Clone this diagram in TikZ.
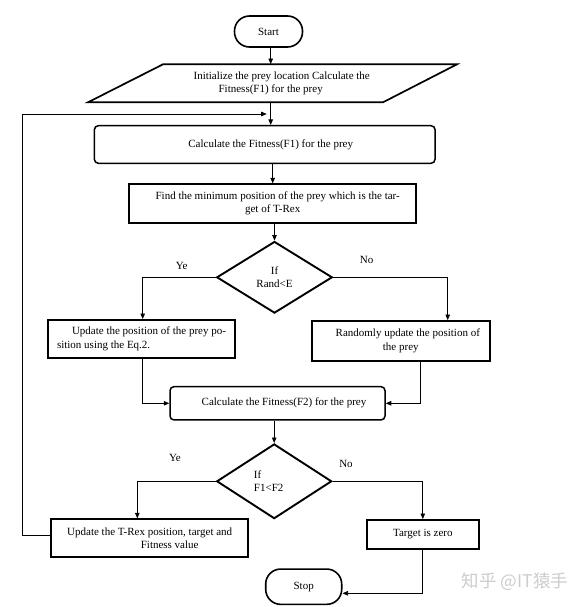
\documentclass[tikz,border=0pt]{standalone}
\usepackage{fontspec}
\setmainfont{Liberation Serif}
\newfontfamily\cjkfont{Noto Sans CJK SC}
\usetikzlibrary{shapes.geometric,arrows.meta}
\begin{document}
\begin{tikzpicture}[x=1pt,y=-1pt,
  font=\fontsize{11}{13.5}\selectfont,
  proc/.style={draw, line width=1.9pt, inner sep=0pt, align=center},
  rproc/.style={draw, line width=1.5pt, rounded corners=4pt, inner sep=0pt, align=center},
  term/.style={draw, line width=1.6pt, rounded corners=15pt, inner sep=0pt},
  dec/.style={draw, diamond, line width=1.9pt, inner sep=0pt, align=center},
  conn/.style={line width=0.7pt, -{Triangle[length=5.5pt,width=4.5pt]}},
  lab/.style={inner sep=0pt}]
\useasboundingbox (0,0) rectangle (585,607);
% nodes
\node[term, minimum width=68pt, minimum height=31pt] (start) at (268.5,31.5) {Start};
\node[inner sep=0pt, minimum width=220pt, minimum height=38pt, align=center] (init) at (270.7,83.3)
  {\hspace*{22pt}Initialize the prey location Calculate the\\Fitness(F1) for the prey};
\draw[line width=1.7pt] (163,64.3) -- (457,64.3) -- (383,102.3) -- (88,102.3) -- cycle;
\node[rproc, minimum width=340.7pt, minimum height=37.6pt] (c1) at (264.7,144.5)
  {\hspace*{12pt}Calculate the Fitness(F1) for the prey};
\node[proc, minimum width=286.7pt, minimum height=38.4pt] (find) at (272.7,203.5)
  {\hspace*{10pt}Find the minimum position of the prey which is the tar-\\get of T-Rex};
\node[dec, minimum width=115.6pt, minimum height=71.6pt] (d1) at (274.5,277.3) {If\\Rand<E};
\node[proc, minimum width=187.7pt, minimum height=37.7pt, align=left] (up) at (141.5,338.8)
  {\hspace*{15pt}Update the position of the prey po-\\sition using the Eq.2.};
\node[proc, minimum width=178.3pt, minimum height=40pt] (rb) at (400.8,341)
  {\hspace*{14pt}Randomly update the position of\\the prey};
\node[rproc, minimum width=215pt, minimum height=33.3pt] (c2) at (277.5,403.3)
  {\hspace*{13pt}Calculate the Fitness(F2) for the prey};
\node[dec, minimum width=115pt, minimum height=74.7pt, align=left] (d2) at (274.2,481.3) {If\\F1<F2\hspace*{11pt}};
\node[proc, minimum width=197.3pt, minimum height=38pt] (tr) at (149.7,538.3)
  {Update the T-Rex position, target and\\\hspace*{40pt}Fitness value};
\node[proc, minimum width=112.3pt, minimum height=29pt] (tz) at (422.8,534.5) {Target is zero};
\node[term, minimum width=76pt, minimum height=35.3pt] (stop) at (303.7,586.7) {Stop};
% labels
\node[lab] (ye1) at (181.7,265.7) {Ye};
\node[lab] (no1) at (366.7,260) {No};
\node[lab] (ye2) at (175,458.3) {Ye};
\node[lab] (no2) at (346,464.3) {No};
\node[lab, text=gray!40, font=\cjkfont\fontsize{17.5}{17.5}\selectfont] (wm) at (515,581.7) {知乎 @IT猿手};
% connectors
\coordinate (loopend) at (266.7,114);
\draw[conn] (start.south -| init.north) -- (init.north);
\draw[conn] (init.south) -- (init.south |- c1.north);
\draw[conn] (c1.south -| find.north) -- (find.north);
\draw[conn] (find.south -| d1.north) -- (d1.north);
\draw[conn] (d1.west) -| ([xshift=1.2pt]up.north);
\draw[conn] (d1.east) -| ([xshift=46.9pt]rb.north);
\draw[conn] ([xshift=1.2pt]up.south) |- (c2.west);
\draw[conn] ([xshift=19.2pt]rb.south) |- (c2.east);
\draw[conn] (c2.south -| d2.north) -- (d2.north);
\draw[conn] (d2.west) -| ([xshift=-12.4pt]tr.north);
\draw[conn] (d2.east) -| (tz.north);
\draw[conn] (tz.south) |- ([yshift=-6.6pt]stop.east);
\draw[conn] ([yshift=2.6pt]tr.west) -- ++(-27.7,0) |- (loopend);
\end{tikzpicture}
\end{document}
